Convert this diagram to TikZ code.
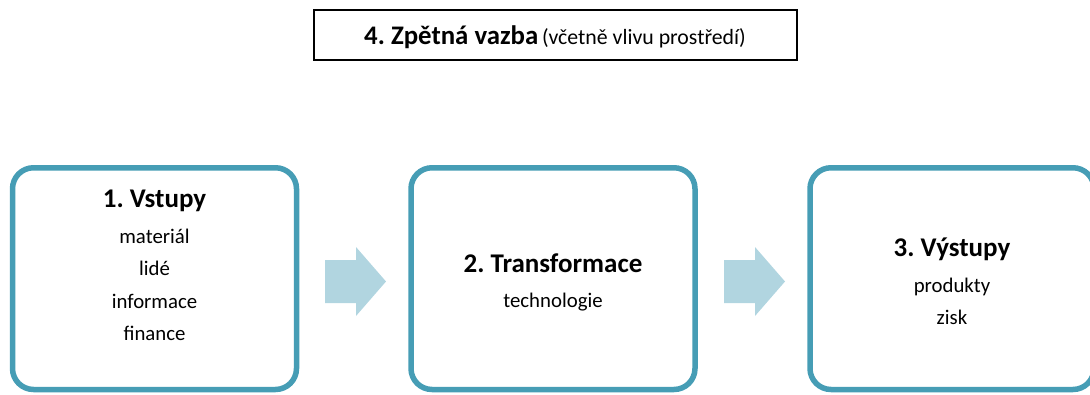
\documentclass[tikz,border=0pt]{standalone}
\usepackage{fontspec}
\setmainfont{Carlito}
\frenchspacing
\definecolor{teal}{RGB}{70,157,181}
\definecolor{arrowblue}{RGB}{177,213,224}
\tikzset{
  stagebox/.style={draw=teal, line width=5.5pt, rounded corners=21pt, fill=white},
  fbbox/.style={draw=black, line width=1.4pt, fill=white},
  ttl/.style={anchor=base, inner sep=0pt, font=\fontsize{27}{32}\selectfont\bfseries},
  bdy/.style={anchor=base, inner sep=0pt, font=\fontsize{20.8}{25}\selectfont},
  flowarrow/.style={fill=arrowblue, draw=none}
}
\begin{document}
\begin{tikzpicture}[x=1pt,y=-1pt]
\useasboundingbox (0,0) rectangle (1090,394);
\clip (0,0) rectangle (1090,394);
% feedback box
\draw[fbbox] (314,10) rectangle (797,60);
\node[anchor=base, inner sep=0pt] (fb) at (555,44) {{\fontsize{26.8}{30}\selectfont\bfseries 4. Zpětná vazba}\hspace{1.5pt} {\fontsize{21.8}{25}\selectfont(včetně vlivu prostředí)}};
% stage boxes
\draw[stagebox] (12.5,167.75) rectangle (296.5,389.5);
\draw[stagebox] (411,167.75) rectangle (695,389.5);
\draw[stagebox] (810,167.75) rectangle (1094,389.5);
% box 1 texts
\node[ttl] (t1) at (154.5,207.3) {1. Vstupy};
\node[bdy] (b1a) at (154.5,243.3) {materiál};
\node[bdy] (b1b) at (154.5,275.8) {lidé};
\node[bdy] (b1c) at (154.5,308) {informace};
\node[bdy] (b1d) at (154.5,340.3) {finance};
% box 2 texts
\node[ttl] (t2) at (553,272) {2. Transformace};
\node[bdy] (b2a) at (553,307) {technologie};
% box 3 texts
\node[ttl] (t3) at (952,256) {3. Výstupy};
\node[bdy] (b3a) at (952,292.5) {produkty};
\node[bdy] (b3b) at (952,324) {zisk};
% arrows
\coordinate (a1) at (325,281.5);
\coordinate (a2) at (724,281.5);
\foreach \a in {a1,a2}{
  \fill[flowarrow] (\a) ++(0,-21.5) -- ++(31,0) -- ++(0,-13) -- ++(30,34.5) -- ++(-30,34.5) -- ++(0,-13) -- ++(-31,0) -- cycle;
}
\end{tikzpicture}
\end{document}
